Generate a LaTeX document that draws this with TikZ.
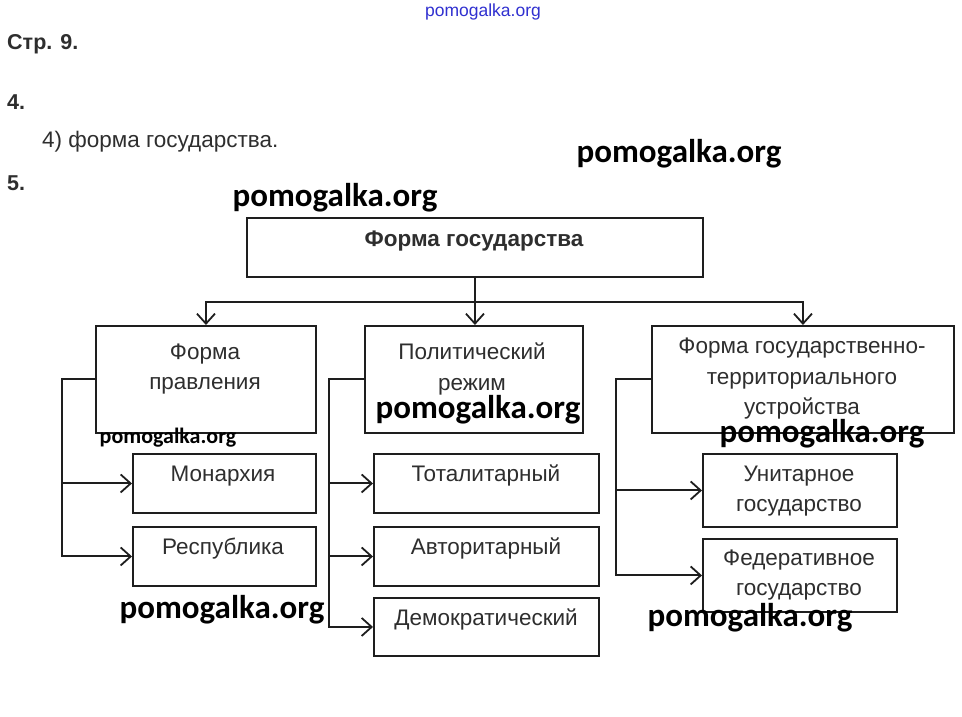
\documentclass[tikz,border=0pt]{standalone}
\usepackage{fontspec}
\setmainfont{Liberation Sans}
\newfontfamily\wmfont{Carlito}
\usetikzlibrary{arrows.meta}
\definecolor{ink}{HTML}{1E1E1E}
\definecolor{txtc}{HTML}{2E2E2E}
\definecolor{wmblue}{HTML}{3030D0}
\begin{document}
\begin{tikzpicture}[x=1pt,y=-1pt,
  box/.style={draw=ink, line width=1.9pt, inner sep=0pt, anchor=north west},
  txt/.style={inner sep=0pt, align=center, text=txtc, font=\fontsize{22.5}{30.5}\selectfont},
  head/.style={inner sep=0pt, anchor=west, text=txtc},
  wm/.style={inner sep=0pt, text=black, font=\wmfont\bfseries\fontsize{33}{36}\selectfont},
  conn/.style={draw=ink, line width=2pt},
  arr/.style={conn, -{Straight Barb[length=10pt,width=18pt,line width=1.8pt]}}]
\fill[white] (0,0) rectangle (962,717);
\useasboundingbox (0,0) rectangle (962,717);

% header
\node[inner sep=0pt, text=wmblue, font=\fontsize{17.5}{19}\selectfont] (wmtop) at (483,12) {pomogalka.org};
\node[head, font=\bfseries\fontsize{21.5}{24}\selectfont] (h1) at (7,44) {Стр. 9.};
\node[head, font=\bfseries\fontsize{21.5}{24}\selectfont] (h2) at (7,102) {4.};
\node[head, font=\fontsize{22.5}{24}\selectfont] (h3) at (42,142) {4) форма государства.};
\node[head, font=\bfseries\fontsize{21.5}{24}\selectfont] (h4) at (7,183) {5.};

% boxes
\node[box, minimum width=456, minimum height=59] (top) at (246,217) {};
\node[box, minimum width=220, minimum height=107] (b1) at (95,325) {};
\node[box, minimum width=218, minimum height=107] (b2) at (364,325) {};
\node[box, minimum width=302, minimum height=107] (b3) at (651,325) {};
\node[box, minimum width=183, minimum height=59] (mon) at (132,453) {};
\node[box, minimum width=183, minimum height=59] (res) at (132,526) {};
\node[box, minimum width=225, minimum height=59] (tot) at (373,453) {};
\node[box, minimum width=225, minimum height=59] (avt) at (373,526) {};
\node[box, minimum width=225, minimum height=58] (dem) at (373,597) {};
\node[box, minimum width=194, minimum height=73] (uni) at (702,453) {};
\node[box, minimum width=194, minimum height=73] (fed) at (702,538) {};

% texts
\node[txt, font=\bfseries\fontsize{22.5}{24}\selectfont] (ttop) at (474,241) {Форма государства};
\node[txt] (t1) at (205,369) {Форма\\правления};
\node[txt] (t2) at (472,369) {Политический\\режим};
\node[txt] (t3) at (802,379) {Форма государственно-\\территориального\\устройства};
\node[txt] (tmon) at (223,476) {Монархия};
\node[txt] (tres) at (223,549) {Республика};
\node[txt] (ttot) at (486,475) {Тоталитарный};
\node[txt] (tavt) at (486,548) {Авторитарный};
\node[txt] (tdem) at (486,619) {Демократический};
\node[txt] (tuni) at (799,491) {Унитарное\\государство};
\node[txt] (tfed) at (799,575) {Федеративное\\государство};

% connectors
\draw[conn] (top.south) -- ++(0,24) coordinate (bus);
\draw[arr] (bus) -| (b1.north);
\draw[arr] (bus) -- (bus |- b2.north);
\draw[arr] (bus) -| (b3.north);

\draw[arr] (b1.west) -- ++(-33,0) |- (mon.west);
\draw[arr] (b1.west) -- ++(-33,0) |- (res.west);
\draw[arr] (b2.west) -- ++(-35,0) |- (tot.west);
\draw[arr] (b2.west) -- ++(-35,0) |- (avt.west);
\draw[arr] (b2.west) -- ++(-35,0) |- (dem.west);
\draw[arr] (b3.west) -- ++(-35,0) |- (uni.west);
\draw[arr] (b3.west) -- ++(-35,0) |- (fed.west);

% watermarks
\node[wm] (w1) at (679,154) {pomogalka.org};
\node[wm] (w2) at (335,198) {pomogalka.org};
\node[wm] (w3) at (478,410) {pomogalka.org};
\node[wm, font=\wmfont\bfseries\fontsize{22}{24}\selectfont] (w4) at (168,438) {pomogalka.org};
\node[wm] (w5) at (822,434) {pomogalka.org};
\node[wm] (w6) at (222,610) {pomogalka.org};
\node[wm] (w7) at (750,618) {pomogalka.org};
\end{tikzpicture}
\end{document}
